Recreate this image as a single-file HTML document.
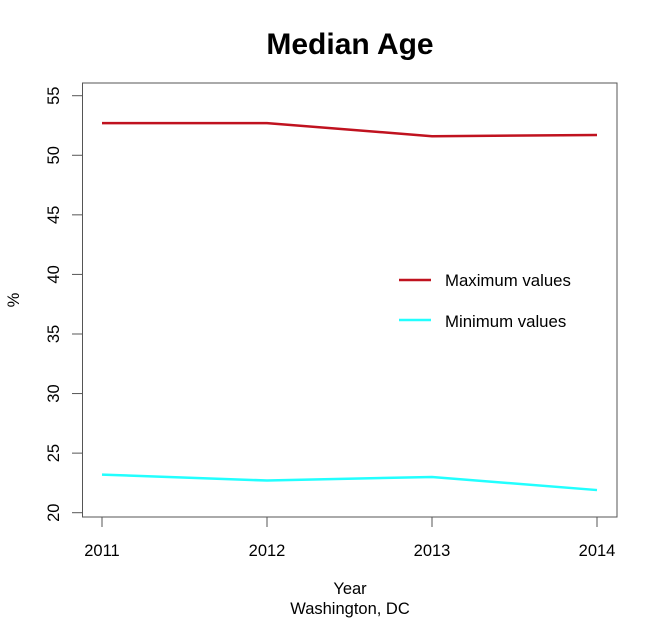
<!DOCTYPE html>
<html><head><meta charset="utf-8"><style>body{margin:0;background:#fff}svg{display:block;font-family:"Liberation Sans",Arial,sans-serif}</style></head>
<body>
<svg id="chart" width="660" height="620" xmlns="http://www.w3.org/2000/svg">
<text x="350" y="54" text-anchor="middle" font-size="30" font-weight="bold">Median Age</text>
<rect x="82.5" y="83" width="534.5" height="434" fill="none" stroke="#555" stroke-width="1"/>
<text x="350" y="594" text-anchor="middle" font-size="16.5">Year</text>
<text x="350" y="614" text-anchor="middle" font-size="16.5">Washington, DC</text>
<text transform="translate(19,300) rotate(-90)" text-anchor="middle" font-size="16.5">%</text>
<g id="axes"></g><g id="series"></g>
<g>
<line x1="399" y1="280" x2="431" y2="280" stroke="#c0121f" stroke-width="2.5"/>
<text x="445" y="286" font-size="16.8">Maximum values</text>
<line x1="399" y1="320" x2="431" y2="320" stroke="#22ffff" stroke-width="2.5"/>
<text x="445" y="327" font-size="16.8">Minimum values</text>
</g>
</svg>
<script>
const years = [2011, 2012, 2013, 2014];
const maxValues = [52.7, 52.7, 51.6, 51.7];
const minValues = [23.2, 22.7, 23.0, 21.9];
const yTicks = [20, 25, 30, 35, 40, 45, 50, 55];
const NS = "http://www.w3.org/2000/svg";
function xs(v){return 102 + (v-2011)*(597-102)/3;}
function ys(v){return 512.7 - (v-20)*(512.7-95.7)/35;}
const axes = document.getElementById('axes');
const ser = document.getElementById('series');
function mk(tag, attrs, parent){const e=document.createElementNS(NS,tag);for(const k in attrs)e.setAttribute(k,attrs[k]);parent.appendChild(e);return e;}
yTicks.forEach(t=>{
  const l=mk('line',{x1:72,x2:82.5,y1:ys(t),y2:ys(t),stroke:'#555'},axes);
  
  
  const tx=mk('text',{transform:`translate(59,${ys(t)}) rotate(-90)`,'text-anchor':'middle','font-size':16.5},axes);
  tx.textContent=t;
  
  
});
years.forEach(y=>{
  const l=mk('line',{x1:xs(y),x2:xs(y),y1:517,y2:527,stroke:'#555'},axes);
  
  
  const tx=mk('text',{x:xs(y),y:556,'text-anchor':'middle','font-size':16.5},axes);
  tx.textContent=y;
  
  
});
function line(vals,color,name){
  const p=mk('polyline',{points:years.map((y,i)=>xs(y)+','+ys(vals[i])).join(' '),fill:'none',stroke:color,'stroke-width':2.5},ser);
  
  
}
line(maxValues,'#c0121f','max-values-line');
line(minValues,'#22ffff','min-values-line');
</script>
</body></html>
